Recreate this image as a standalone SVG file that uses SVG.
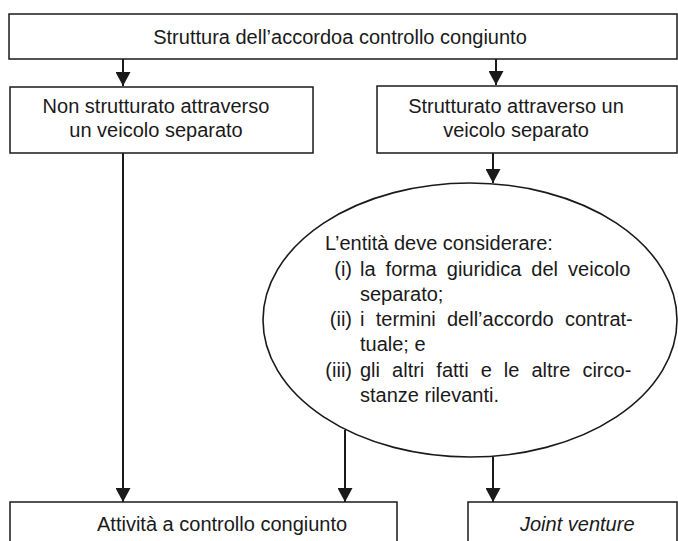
<svg xmlns="http://www.w3.org/2000/svg" width="678" height="541" viewBox="0 0 678 541">
<style>
.box{fill:#fff;stroke:#1a1a1a;stroke-width:1.5}
.ell{fill:#fff;stroke:#1a1a1a;stroke-width:1.6}
.t{font-family:"Liberation Sans",Arial,sans-serif;font-size:20px;fill:#1a1a1a}
.c{text-anchor:middle}
.e{text-anchor:end}
.con line{stroke:#1a1a1a;stroke-width:2}
</style>
<defs>
<marker id="ah" viewBox="0 0 14 15" refX="14" refY="7.5" markerWidth="14" markerHeight="15" markerUnits="userSpaceOnUse" orient="auto">
<path d="M0,0 L14,7.5 L0,15 Z" fill="#1a1a1a"/>
</marker>
</defs>
<rect width="678" height="541" fill="#fff"/>
<g id="top">
<rect class="box" x="9" y="14" width="668" height="45"/>
<text class="t c" x="340" y="44">Struttura dell’accordoa controllo congiunto</text>
</g>
<g id="nonstrutt">
<rect class="box" x="10" y="87" width="303" height="66"/>
<text class="t c" x="156" y="113">Non strutturato attraverso</text>
<text class="t c" x="156" y="137">un veicolo separato</text>
</g>
<g id="strutt">
<rect class="box" x="377" y="86" width="300" height="67"/>
<text class="t c" x="516" y="113">Strutturato attraverso un</text>
<text class="t c" x="516" y="137">veicolo separato</text>
</g>
<g id="considerare">
<ellipse class="ell" cx="470" cy="320" rx="207" ry="137"/>
<text class="t" x="325" y="250">L’entità deve considerare:</text>
<text class="t e" x="352" y="276">(i)</text>
<text class="t" x="360" y="276" word-spacing="4.5">la forma giuridica del veicolo</text>
<text class="t" x="360" y="301">separato;</text>
<text class="t e" x="352" y="326">(ii)</text>
<text class="t" x="360" y="326" word-spacing="5.7">i termini dell’accordo contrat-</text>
<text class="t" x="360" y="351">tuale; e</text>
<text class="t e" x="352" y="377">(iii)</text>
<text class="t" x="360" y="377" word-spacing="6.5">gli altri fatti e le altre circo-</text>
<text class="t" x="360" y="402">stanze rilevanti.</text>
</g>
<g id="attivita">
<rect class="box" x="10" y="502" width="387" height="60"/>
<text class="t" x="97" y="531">Attività a controllo congiunto</text>
</g>
<g id="jv">
<rect class="box" x="468" y="502" width="209" height="60"/>
<text class="t" x="520" y="531" font-style="italic">Joint venture</text>
</g>
<g id="connectors" class="con">
<line x1="123" y1="59" x2="123" y2="86" marker-end="url(#ah)"/>
<line x1="496" y1="59" x2="496" y2="85" marker-end="url(#ah)"/>
<line x1="493" y1="153" x2="493" y2="183" marker-end="url(#ah)"/>
<line x1="123" y1="153" x2="123" y2="502" marker-end="url(#ah)"/>
<line x1="345" y1="430" x2="345" y2="502" marker-end="url(#ah)"/>
<line x1="493" y1="457" x2="493" y2="502" marker-end="url(#ah)"/>
</g>
</svg>
